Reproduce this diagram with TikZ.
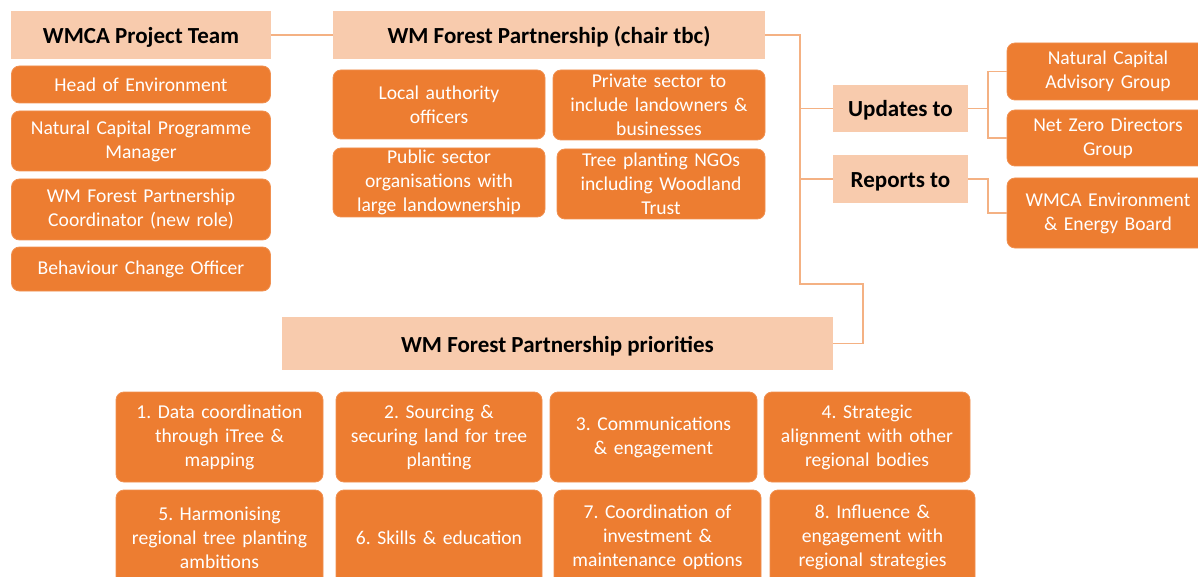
\documentclass[tikz,border=0pt]{standalone}
\usepackage{fontspec}
\setmainfont{Carlito}
\frenchspacing
\definecolor{ora}{HTML}{ED7D31}
\definecolor{peach}{HTML}{F8CBAD}
\definecolor{lin}{HTML}{F4B183}
\tikzset{
  hdr/.style={rectangle, fill=peach, inner sep=0pt, align=center, text height=17pt, text depth=0pt, font=\fontsize{23}{27}\selectfont\bfseries, text=black},
  obox/.style={rectangle, rounded corners=8pt, fill=ora, draw=ora!85!white, line width=0.8pt, inner sep=0pt, align=center, text=white, font=\fontsize{19.6}{24}\selectfont},
  pbox/.style={obox},
  conn/.style={draw=lin, line width=1.3pt}
}
\begin{document}
\begin{tikzpicture}[x=1pt,y=-1pt]
\useasboundingbox (0,0) rectangle (1198,577);
\clip (0,0) rectangle (1198,577);
% left column
\node[hdr, minimum width=260pt, minimum height=48pt] (h1) at (141,35) {WMCA Project Team};
\node[obox, minimum width=259pt, minimum height=37pt, text width=255pt] (a1) at (141,84.5) {Head of Environment};
\node[obox, minimum width=259pt, minimum height=60pt, text width=255pt] (a2) at (141,141) {Natural Capital Programme\\Manager};
\node[obox, minimum width=259pt, minimum height=61pt, text width=255pt] (a3) at (141,209.5) {WM Forest Partnership\\Coordinator (new role)};
\node[obox, minimum width=259pt, minimum height=44pt, text width=255pt] (a4) at (141,269) {Behaviour Change Officer};
% partnership
\node[hdr, minimum width=432pt, minimum height=48pt] (h2) at (549,35) {WM Forest Partnership (chair tbc)};
\node[obox, minimum width=212pt, minimum height=69pt, text width=208pt] (b1) at (439,104.5) {Local authority\\officers};
\node[obox, minimum width=212pt, minimum height=70pt, text width=208pt] (b2) at (659,105) {Private sector to\\include landowners \&\\businesses};
\node[obox, minimum width=212pt, minimum height=69pt, text width=208pt] (b3) at (439,182.5) {Public sector\\organisations with\\large landownership};
\node[obox, minimum width=208pt, minimum height=70pt, text width=204pt] (b4) at (661,184) {Tree planting NGOs\\including Woodland\\Trust};
% updates / reports
\node[hdr, minimum width=135pt, minimum height=47pt] (upd) at (900.5,108.5) {Updates to};
\node[hdr, minimum width=135pt, minimum height=48pt] (rep) at (900.5,179) {Reports to};
\node[obox, minimum width=202pt, minimum height=57pt, text width=198pt] (c1) at (1108,71.5) {Natural Capital\\Advisory Group};
\node[obox, minimum width=202pt, minimum height=56pt, text width=198pt] (c2) at (1108,138) {Net Zero Directors\\Group};
\node[obox, minimum width=202pt, minimum height=70pt, text width=198pt] (c3) at (1108,213) {WMCA Environment\\\& Energy Board};
% priorities
\node[hdr, minimum width=551pt, minimum height=53pt] (pr) at (557.5,343.5) {WM Forest Partnership priorities};
\node[pbox, minimum width=207pt, minimum height=90pt, text width=203pt] (p1) at (219.5,437) {1. Data coordination\\through iTree \&\\mapping};
\node[pbox, minimum width=206pt, minimum height=90pt, text width=202pt] (p2) at (439,437) {2. Sourcing \&\\securing land for tree\\planting};
\node[pbox, minimum width=207pt, minimum height=90pt, text width=203pt] (p3) at (653.5,437) {3. Communications\\\& engagement};
\node[pbox, minimum width=206pt, minimum height=90pt, text width=202pt] (p4) at (867,437) {4. Strategic\\alignment with other\\regional bodies};
\node[pbox, minimum width=207pt, minimum height=95pt, text width=203pt] (p5) at (219.5,537.5) {5. Harmonising\\regional tree planting\\ambitions};
\node[pbox, minimum width=206pt, minimum height=95pt, text width=202pt] (p6) at (439,537.5) {6. Skills \& education};
\node[pbox, minimum width=207pt, minimum height=95pt, text width=203pt] (p7) at (657.5,537.5) {7. Coordination of\\investment \&\\maintenance options};
\node[pbox, minimum width=205pt, minimum height=95pt, text width=201pt] (p8) at (872.5,537.5) {8. Influence \&\\engagement with\\regional strategies};
% connectors
\coordinate (k1) at (800,284);
\coordinate (k2) at (863,284);
\coordinate (k3) at (988,0);
\draw[conn] (h1.east) -- (h2.west);
\draw[conn] (h2.east) -| (k1) -- (k2) |- (pr.east);
\draw[conn] (upd.west) -- (upd.west -| k1);
\draw[conn] (rep.west) -- (rep.west -| k1);
\draw[conn] (c1.west) -- (c1.west -| k3) -- (c2.west -| k3) -- (c2.west);
\draw[conn] (upd.east) -- (upd.east -| k3);
\draw[conn] (rep.east) -- (rep.east -| k3) |- (c3.west);
\end{tikzpicture}
\end{document}
